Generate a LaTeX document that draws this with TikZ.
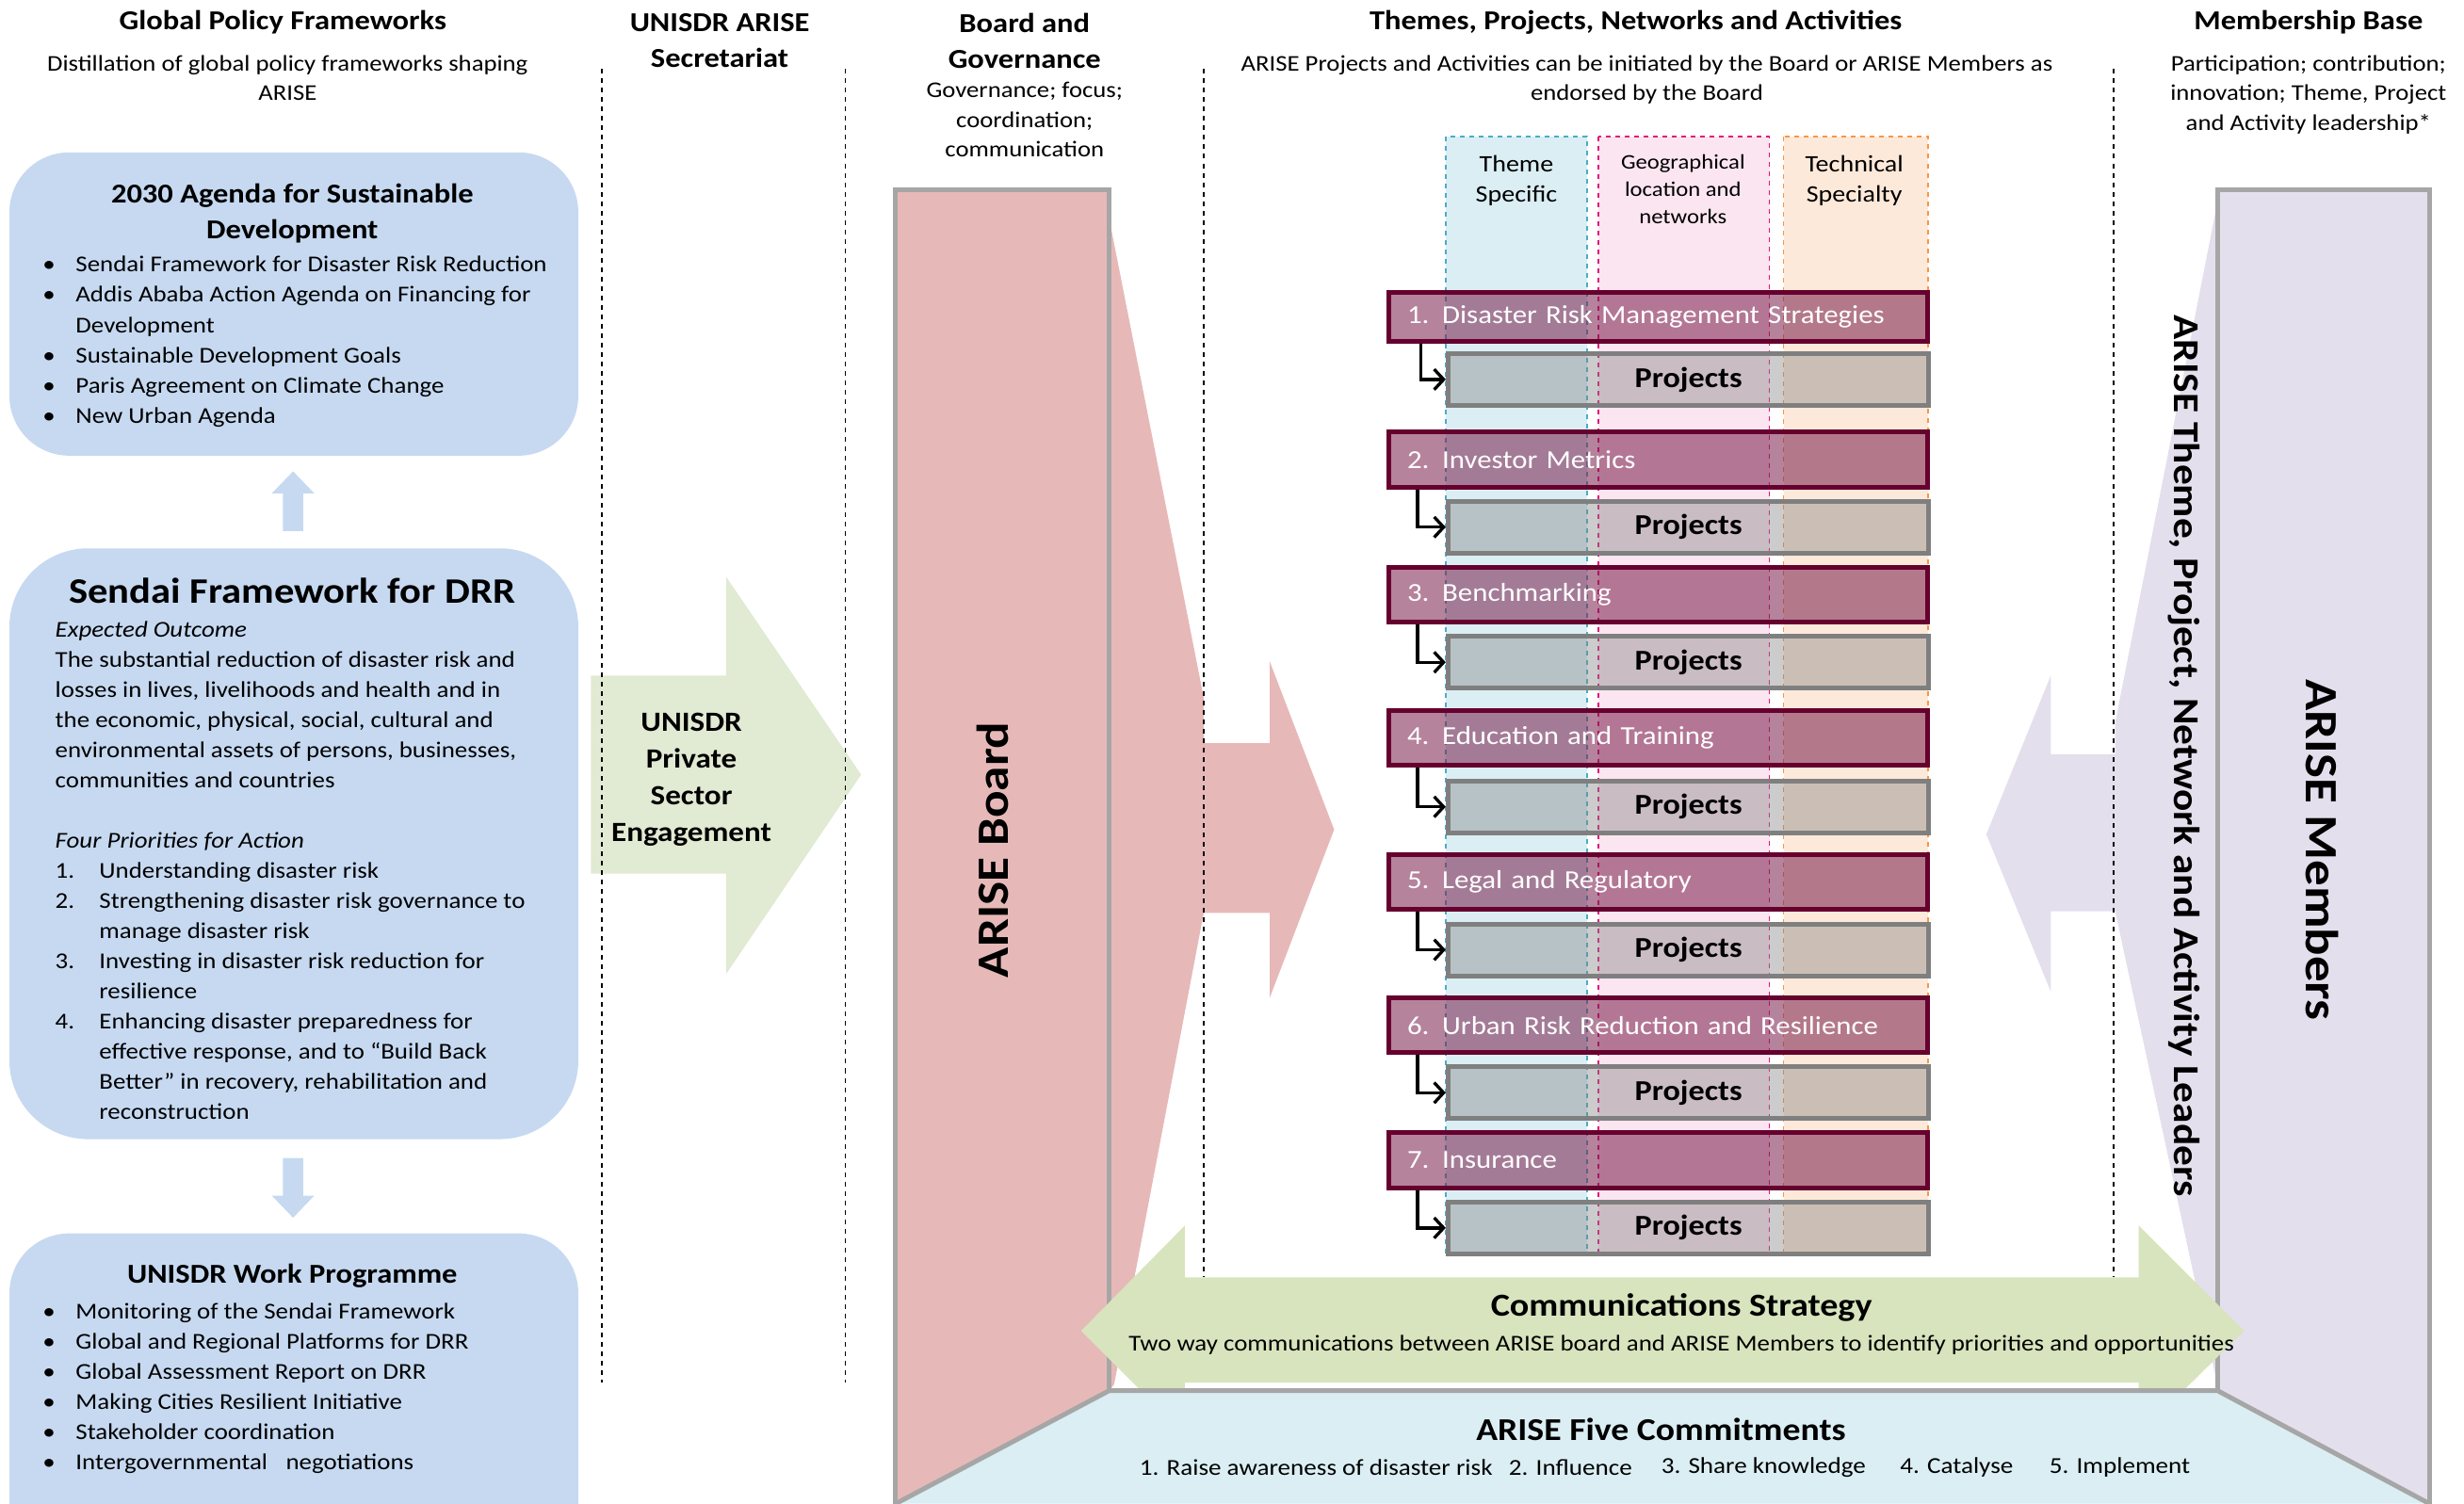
\documentclass[tikz,border=0pt]{standalone}
\usepackage{fontspec}
\setmainfont{Carlito}[FakeStretch=1.12]
\usetikzlibrary{arrows.meta}

\definecolor{polblue}{HTML}{C6D9F1}
\definecolor{secgreen}{HTML}{E1EAD2}
\definecolor{boardpink}{HTML}{E6B9B8}
\definecolor{memlilac}{HTML}{E4DFEC}
\definecolor{commgreen}{HTML}{D7E4BD}
\definecolor{commitblue}{HTML}{DAEEF3}
\definecolor{edgegray}{HTML}{A6A6A6}
\definecolor{themeline}{HTML}{4BACC6}
\definecolor{geopink}{HTML}{FBE5F0}
\definecolor{geoline}{HTML}{E0157A}
\definecolor{techpeach}{HTML}{FDE9D9}
\definecolor{techline}{HTML}{F79646}
\definecolor{topicfill}{RGB}{120,30,75}
\definecolor{topicline}{HTML}{66002E}
\definecolor{projline}{HTML}{7F7F7F}

\tikzset{
  hdr/.style={font=\bfseries\fontsize{17.4}{23}\selectfont, align=center, inner sep=0pt},
  sub/.style={font=\fontsize{14.3}{19}\selectfont, align=center, inner sep=0pt},
  body/.style={font=\fontsize{14.4}{19.2}\selectfont, align=left, inner sep=0pt, anchor=north west},
  bandlabel/.style={font=\fontsize{15}{19}\selectfont, align=center, inner sep=0pt, anchor=north},
  topic/.style={draw=topicline, line width=3pt, fill=topicfill, fill opacity=0.55, text opacity=1,
    text=white, font=\fontsize{16.5}{20}\selectfont, minimum height=35pt, text width=319pt,
    inner xsep=12pt, inner ysep=0pt, align=left, anchor=north west},
  proj/.style={draw=projline, line width=3pt, fill=gray, fill opacity=0.4, text opacity=1,
    font=\bfseries\fontsize{18.3}{20}\selectfont, minimum width=306pt, minimum height=33pt,
    inner sep=0pt, anchor=north west},
  link/.style={line width=2pt, -{Straight Barb[length=6pt,width=13pt,line width=2pt]}},
  colline/.style={dashed, line width=0.8pt},
  edge/.style={edgegray, line width=3pt},
}

\begin{document}
\begin{tikzpicture}[x=1pt, y=-1pt]
	\useasboundingbox (0,0) rectangle (1568,957);
	% left column boxes
	\fill[polblue, rounded corners=38pt] (6,97) rectangle (368,290);
	\fill[polblue, rounded corners=50pt] (6,349) rectangle (368,725);
	\fill[polblue, rounded corners=38pt] (6,785) rectangle (368,1010);
	\fill[polblue] (186.5,300) -- (200,314) -- (193,314) -- (193,338) -- (180,338) -- (180,314) -- (173,314) -- cycle;
	\fill[polblue] (180,737) -- (193,737) -- (193,761) -- (200,761) -- (186.5,775) -- (173,761) -- (180,761) -- cycle;
	% secretariat arrow
	\fill[secgreen] (376,430) -- (462,430) -- (462,367) -- (548,493) -- (462,620) -- (462,556) -- (376,556) -- cycle;
	% board
	\fill[boardpink] (570,121) -- (706,121) -- (706,140) -- (766,444) -- (766,473) -- (808,473) -- (808,421) -- (849,528)
		-- (808,635) -- (808,581) -- (766,581) -- (709,881) -- (706,885) -- (570,957) -- cycle;
	\draw[edge] (570,957) -- (570,121) -- (706,121) -- (706,885);
	% members
	\fill[memlilac] (1546,121) -- (1411,121) -- (1411,129) -- (1346,460) -- (1346,480) -- (1305,480) -- (1305,430) -- (1264,531)
		-- (1305,631) -- (1305,580) -- (1346,580) -- (1411,881) -- (1411,885) -- (1546,957) -- cycle;
	\draw[edge] (1411,885) -- (1411,121) -- (1546,121) -- (1546,957);
	% bands
	\draw[themeline, dashed, line width=1pt, fill=commitblue] (920,87) rectangle (1010,798);
	\draw[geoline, dashed, line width=1pt, fill=geopink] (1017,87) rectangle (1126,798);
	\draw[techline, dashed, line width=1pt, fill=techpeach] (1135,87) rectangle (1227,798);
	\node[bandlabel] (theme) at (965,99) {Theme\\Specific};
	\node[bandlabel, font=\fontsize{13.2}{17.5}\selectfont] (geo) at (1071,98) {Geographical\\location and\\networks};
	\node[bandlabel] (tech) at (1180,99) {Technical\\Specialty};
	% themes and projects
	\node[topic, minimum height=31pt] (t1) at (882,184.5) {1. Disaster Risk Management Strategies};
	\node[proj] (p1) at (920,223.5) {Projects};
	\node[topic] (t2) at (882,273.5) {2. Investor Metrics};
	\node[proj] (p2) at (920,317.5) {Projects};
	\node[topic] (t3) at (882,359.5) {3. Benchmarking};
	\node[proj] (p3) at (920,403.5) {Projects};
	\node[topic] (t4) at (882,450.5) {4. Education and Training};
	\node[proj] (p4) at (920,495.5) {Projects};
	\node[topic] (t5) at (882,542.5) {5. Legal and Regulatory};
	\node[proj] (p5) at (920,586.5) {Projects};
	\node[topic] (t6) at (882,633.5) {6. Urban Risk Reduction and Resilience};
	\node[proj] (p6) at (920,677.5) {Projects};
	\node[topic] (t7) at (882,719.5) {7. Insurance};
	\node[proj] (p7) at (920,763.5) {Projects};
	\draw[link] ([xshift=22pt]t1.south west) |- (p1.west);
	\draw[link] ([xshift=20pt]t2.south west) |- (p2.west);
	\draw[link] ([xshift=20pt]t3.south west) |- (p3.west);
	\draw[link] ([xshift=20pt]t4.south west) |- (p4.west);
	\draw[link] ([xshift=20pt]t5.south west) |- (p5.west);
	\draw[link] ([xshift=20pt]t6.south west) |- (p6.west);
	\draw[link] ([xshift=20pt]t7.south west) |- (p7.west);
	% column separators
	\draw[colline] (383,44) -- (383,880);
	\draw[colline] (538,44) -- (538,880);
	\draw[colline] (766,44) -- (766,813);
	\draw[colline] (1345,44) -- (1345,813);
	% communications and commitments
	\fill[commgreen] (688,847) -- (754,780) -- (754,813) -- (1361,813) -- (1361,780) -- (1428,847)
		-- (1361,913) -- (1361,880) -- (754,880) -- (754,913) -- cycle;
	\fill[commitblue] (706,885) -- (1411,885) -- (1546,957) -- (570,957) -- cycle;
	\draw[edge] (570,957) -- (706,885) -- (1411,885) -- (1546,957);
	% headers
	\node[hdr] (gpf) at (180,14) {Global Policy Frameworks};
	\node[sub, anchor=north] (gpfsub) at (183,35) {Distillation of global policy frameworks shaping\\ARISE};
	\node[hdr] (sec) at (458,26) {UNISDR ARISE\\Secretariat};
	\node[hdr] (gov) at (652,26) {Board and\\Governance};
	\node[sub, anchor=north] (govsub) at (652,52) {Governance; focus;\\coordination;\\communication};
	\node[hdr] (tpna) at (1041,14) {Themes, Projects, Networks and Activities};
	\node[sub, anchor=north] (tpnasub) at (1048,35) {ARISE Projects and Activities can be initiated by the Board or ARISE Members as\\endorsed by the Board};
	\node[hdr] (mb) at (1469,14) {Membership Base};
	\node[sub, anchor=north] (mbsub) at (1469,35) {Participation; contribution;\\innovation; Theme, Project\\and Activity leadership*};
	% left column text
	\node[hdr] (agenda) at (186,136) {2030 Agenda for Sustainable\\Development};
	\node[body] (agendalist) at (27,163) {\makebox[21pt][l]{\textbullet}Sendai Framework for Disaster Risk Reduction\\
		\makebox[21pt][l]{\textbullet}Addis Ababa Action Agenda on Financing for\\
		\hspace*{21pt}Development\\
		\makebox[21pt][l]{\textbullet}Sustainable Development Goals\\
		\makebox[21pt][l]{\textbullet}Paris Agreement on Climate Change\\
		\makebox[21pt][l]{\textbullet}New Urban Agenda};
	\node[hdr, font=\bfseries\fontsize{22.8}{26}\selectfont] (sendai) at (186,376) {Sendai Framework for DRR};
	\node[body] (sendaitext) at (35,395) {\textit{Expected Outcome}\\
		The substantial reduction of disaster risk and\\
		losses in lives, livelihoods and health and in\\
		the economic, physical, social, cultural and\\
		environmental assets of persons, businesses,\\
		communities and countries\\[19.2pt]
		\textit{Four Priorities for Action}\\
		\makebox[28pt][l]{1.}Understanding disaster risk\\
		\makebox[28pt][l]{2.}Strengthening disaster risk governance to\\
		\hspace*{28pt}manage disaster risk\\
		\makebox[28pt][l]{3.}Investing in disaster risk reduction for\\
		\hspace*{28pt}resilience\\
		\makebox[28pt][l]{4.}Enhancing disaster preparedness for\\
		\hspace*{28pt}effective response, and to “Build Back\\
		\hspace*{28pt}Better” in recovery, rehabilitation and\\
		\hspace*{28pt}reconstruction};
	\node[hdr] (work) at (186,812) {UNISDR Work Programme};
	\node[body] (worklist) at (27,829) {\makebox[21pt][l]{\textbullet}Monitoring of the Sendai Framework\\
		\makebox[21pt][l]{\textbullet}Global and Regional Platforms for DRR\\
		\makebox[21pt][l]{\textbullet}Global Assessment Report on DRR\\
		\makebox[21pt][l]{\textbullet}Making Cities Resilient Initiative\\
		\makebox[21pt][l]{\textbullet}Stakeholder coordination\\
		\makebox[21pt][l]{\textbullet}Intergovernmental\hspace{8pt} negotiations};
	% big labels
	\node[hdr, font=\bfseries\fontsize{17.7}{23.3}\selectfont] (pse) at (440,496) {UNISDR\\Private\\Sector\\Engagement};
	\node[hdr, rotate=90, font=\bfseries\fontsize{28.5}{34}\selectfont] (board) at (632,541) {ARISE Board};
	\node[hdr, rotate=-90, font=\bfseries\fontsize{29.4}{35}\selectfont] (members) at (1478,541) {ARISE Members};
	\node[hdr, rotate=-90, font=\bfseries\fontsize{23.2}{28}\selectfont] (leaders) at (1390,481) {ARISE Theme, Project, Network and Activity Leaders};
	\node[hdr, font=\bfseries\fontsize{20.4}{24}\selectfont] (comm) at (1070,832) {Communications Strategy};
	\node[sub, font=\fontsize{14.4}{19}\selectfont] (commtext) at (1070,856) {Two way communications between ARISE board and ARISE Members to identify priorities and opportunities};
	\node[hdr, font=\bfseries\fontsize{20.2}{24}\selectfont] (five) at (1057,910) {ARISE Five Commitments};
	\node[sub, anchor=west, font=\fontsize{14.5}{19}\selectfont] (c1) at (725,934) {1. Raise awareness of disaster risk};
	\node[sub, anchor=west, font=\fontsize{14.5}{19}\selectfont] (c2) at (960,934) {2. Influence};
	\node[sub, anchor=west, font=\fontsize{14.5}{19}\selectfont] (c3) at (1057,934) {3. Share knowledge};
	\node[sub, anchor=west, font=\fontsize{14.5}{19}\selectfont] (c4) at (1209,934) {4. Catalyse};
	\node[sub, anchor=west, font=\fontsize{14.5}{19}\selectfont] (c5) at (1304,934) {5. Implement};
\end{tikzpicture}
\end{document}
